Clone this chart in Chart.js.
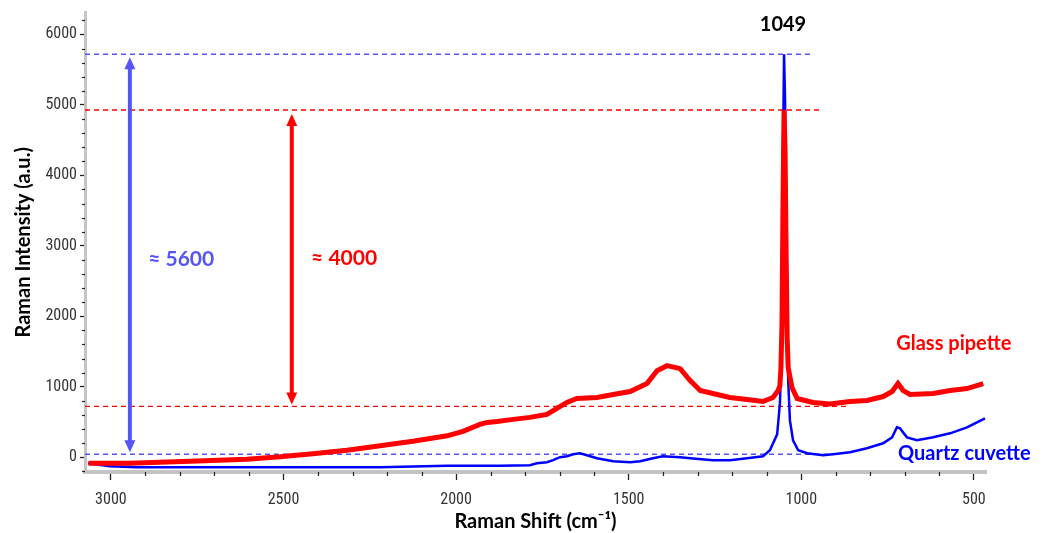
<!DOCTYPE html>
<html>
<head>
<meta charset="utf-8">
<title>Raman spectra: glass pipette vs quartz cuvette</title>
<script src="https://cdn.jsdelivr.net/npm/chart.js@4/dist/chart.umd.min.js"></script>
<style>
  html, body { margin: 0; padding: 0; background: #fff; }
  #wrap { width: 1051px; height: 533px; position: relative; }
</style>
</head>
<body>
<div id="wrap"><canvas id="chart"></canvas></div>
<script>
// Raman shift (cm-1) and intensity (a.u.)
const glassShift = [3065, 2945, 2771, 2606, 2510, 2415, 2316, 2220, 2125, 2026, 1980, 1931, 1910, 1881, 1835, 1786, 1737, 1708, 1679, 1650, 1592, 1545, 1496, 1447, 1418, 1389, 1351, 1322, 1293, 1256, 1207, 1157, 1111, 1082, 1067, 1062, 1059, 1056, 1053, 1050, 1047, 1044, 1041, 1038, 1027, 1012, 966, 917, 859, 810, 763, 737, 720, 705, 685, 618, 569, 520, 473];
const glassIntensity = [-85, -85, -56, -28, 5, 49, 99, 162, 226, 304, 367, 466, 494, 508, 537, 565, 607, 692, 777, 833, 847, 890, 932, 1045, 1228, 1299, 1257, 1087, 946, 904, 847, 819, 791, 847, 946, 1017, 1271, 1892, 3629, 4928, 4335, 2923, 1694, 1271, 988, 833, 777, 755, 791, 805, 861, 932, 1045, 946, 890, 904, 946, 974, 1045];

const quartzShift = [3066, 3003, 2924, 2742, 2510, 2220, 2026, 1873, 1786, 1766, 1737, 1719, 1699, 1679, 1661, 1641, 1621, 1592, 1545, 1496, 1467, 1430, 1401, 1351, 1322, 1256, 1207, 1157, 1111, 1091, 1070, 1062, 1059, 1056, 1053, 1050, 1047, 1044, 1041, 1038, 1033, 1024, 1009, 983, 937, 908, 859, 810, 763, 737, 723, 714, 694, 665, 618, 569, 520, 491, 468];
const quartzIntensity = [-85, -127, -141, -141, -141, -141, -120, -120, -113, -85, -71, -42, 0, 14, 42, 56, 28, -14, -56, -71, -56, -14, 14, 0, -14, -42, -42, -14, 14, 99, 325, 762, 1228, 2500, 4335, 5719, 5041, 3205, 1793, 1087, 522, 240, 99, 56, 28, 42, 71, 127, 198, 282, 424, 409, 282, 240, 282, 339, 424, 494, 551];

const xTicks = [3000, 2500, 2000, 1500, 1000, 500];
const yTicks = [0, 1000, 2000, 3000, 4000, 5000, 6000];

// dashed reference levels: [intensity, shift where the line stops]
const quartzLevels = [[5719, 966], [42, 900]];
const glassLevels = [[4928, 940], [720, 860]];

// double arrows: [shift, from intensity, to intensity]
const quartzArrow = [2945, 42, 5719];
const glassArrow = [2476, 720, 4928];

// text labels: [text, shift, intensity]
const peakLabel = ['1049', 1053, 6142];
const quartzDiff = ['\u2248 5600', 2892, 2810];
const glassDiff = ['\u2248 4000', 2420, 2824];
const glassName = ['Glass pipette', 725, 1610];
const quartzName = ['Quartz cuvette', 720, 56];

const RED = '#ff0000';
const BLUE = '#0000ff';
const LIGHT_BLUE = '#5555f5';
const BOLD_FONT = "Lato, 'Open Sans', sans-serif";
const TICK_FONT = "'Liberation Sans Narrow', 'Roboto Condensed', 'DejaVu Sans Condensed', 'Liberation Sans', sans-serif";

function toPoints(xs, ys) {
    return xs.map((x, i) => ({ x: x, y: ys[i] }));
}

// top/bottom are pixel positions of the two tips, heads point outward
function drawArrow(ctx, x, top, bottom, color) {
    const head = 12, half = 5.5;
    ctx.save();
    ctx.strokeStyle = color;
    ctx.fillStyle = color;
    ctx.lineWidth = 4;
    ctx.beginPath();
    ctx.moveTo(x, top + head - 1);
    ctx.lineTo(x, bottom - head + 1);
    ctx.stroke();
    ctx.beginPath();
    ctx.moveTo(x, top);
    ctx.lineTo(x - half, top + head);
    ctx.lineTo(x + half, top + head);
    ctx.closePath();
    ctx.fill();
    ctx.beginPath();
    ctx.moveTo(x, bottom);
    ctx.lineTo(x - half, bottom - head);
    ctx.lineTo(x + half, bottom - head);
    ctx.closePath();
    ctx.fill();
    ctx.restore();
}

function drawText(ctx, chart, item, color, align, size) {
    const { x, y } = chart.scales;
    ctx.save();
    ctx.font = 'bold ' + size + 'px ' + BOLD_FONT;
    ctx.fillStyle = color;
    ctx.textAlign = align;
    ctx.textBaseline = 'middle';
    ctx.fillText(item[0], x.getPixelForValue(item[1]), y.getPixelForValue(item[2]));
    ctx.restore();
}

const annotations = {
    id: 'annotations',
    beforeDatasetsDraw(chart) {
        const { ctx, scales: { x, y } } = chart;
        const left = x.getPixelForValue(x.max);
        ctx.save();
        ctx.lineWidth = 1.3;
        ctx.setLineDash([5, 4]);
        const lines = quartzLevels.map(l => [l, LIGHT_BLUE]).concat(glassLevels.map(l => [l, RED]));
        lines.forEach(([l, color]) => {
            const py = y.getPixelForValue(l[0]);
            ctx.strokeStyle = color;
            ctx.beginPath();
            ctx.moveTo(left, py);
            ctx.lineTo(x.getPixelForValue(l[1]), py);
            ctx.stroke();
        });
        ctx.restore();
    },
    afterDatasetsDraw(chart) {
        const { ctx, scales: { x, y } } = chart;
        drawArrow(ctx, x.getPixelForValue(quartzArrow[0]),
            y.getPixelForValue(quartzArrow[2]) + 3, y.getPixelForValue(quartzArrow[1]) - 2, LIGHT_BLUE);
        drawArrow(ctx, x.getPixelForValue(glassArrow[0]),
            y.getPixelForValue(glassArrow[2]) + 4, y.getPixelForValue(glassArrow[1]) - 2, RED);
        drawText(ctx, chart, peakLabel, '#000', 'center', 20);
        drawText(ctx, chart, quartzDiff, LIGHT_BLUE, 'left', 21);
        drawText(ctx, chart, glassDiff, RED, 'left', 21);
        drawText(ctx, chart, glassName, RED, 'left', 20);
        drawText(ctx, chart, quartzName, BLUE, 'left', 20);
    },
    afterDraw(chart) {
        // minor ticks: every 100 cm-1 on x, every 200 on y
        const { ctx, scales: { x, y } } = chart;
        ctx.save();
        ctx.strokeStyle = '#222';
        ctx.lineWidth = 1.2;
        for (let v = 600; v <= 3000; v += 100) {
            if (v % 500 === 0) continue;
            const px = Math.round(x.getPixelForValue(v)) + 0.5;
            ctx.beginPath();
            ctx.moveTo(px, y.bottom);
            ctx.lineTo(px, y.bottom + 4);
            ctx.stroke();
        }
        for (let v = -200; v <= 6200; v += 200) {
            if (v % 1000 === 0) continue;
            const py = Math.round(y.getPixelForValue(v)) + 0.5;
            ctx.beginPath();
            ctx.moveTo(x.left - 3, py);
            ctx.lineTo(x.left, py);
            ctx.stroke();
        }
        ctx.restore();
    }
};

new Chart(document.getElementById('chart'), {
    type: 'line',
    data: {
        datasets: [{
            label: 'Glass pipette',
            data: toPoints(glassShift, glassIntensity),
            borderColor: RED,
            borderWidth: 5,
            pointRadius: 0,
            tension: 0
        }, {
            label: 'Quartz cuvette',
            data: toPoints(quartzShift, quartzIntensity),
            borderColor: BLUE,
            borderWidth: 2.5,
            pointRadius: 0,
            tension: 0
        }]
    },
    options: {
        responsive: true,
        maintainAspectRatio: false,
        animation: false,
        layout: { padding: { top: 10, right: 65, left: 0, bottom: 0 } },
        plugins: {
            legend: { display: false },
            tooltip: { enabled: false }
        },
        scales: {
            x: {
                type: 'linear',
                reverse: true,
                min: 465,
                max: 3075,
                afterFit: scale => { scale.height = 61; },
                afterBuildTicks: scale => { scale.ticks = xTicks.map(v => ({ value: v })); },
                ticks: {
                    font: { family: TICK_FONT, size: 16 },
                    color: '#333',
                    padding: 10,
                    maxRotation: 0,
                    callback: value => String(value)
                },
                grid: {
                    drawOnChartArea: false,
                    tickLength: 8,
                    tickColor: '#222',
                    tickWidth: 1.3
                },
                border: { color: '#c4c4c4', width: 4 },
                title: {
                    display: true,
                    text: 'Raman Shift (cm\u207B\u00B9)',
                    color: '#000',
                    font: { family: BOLD_FONT, size: 20, weight: 'bold', lineHeight: 1.1 },
                    padding: { top: 0, bottom: 0 }
                }
            },
            y: {
                type: 'linear',
                min: -210,
                max: 6310,
                afterFit: scale => { scale.width = 85; },
                afterBuildTicks: scale => { scale.ticks = yTicks.map(v => ({ value: v })); },
                ticks: {
                    font: { family: TICK_FONT, size: 16 },
                    color: '#333',
                    padding: 3,
                    callback: value => String(value)
                },
                grid: {
                    drawOnChartArea: false,
                    tickLength: 5,
                    tickColor: '#222',
                    tickWidth: 1.3
                },
                border: { color: '#c4c4c4', width: 3 },
                title: {
                    display: true,
                    text: 'Raman Intensity (a.u.)',
                    color: '#000',
                    font: { family: BOLD_FONT, size: 20, weight: 'bold' },
                    padding: { top: 12, bottom: 0 }
                }
            }
        }
    },
    plugins: [annotations]
});
</script>
</body>
</html>
